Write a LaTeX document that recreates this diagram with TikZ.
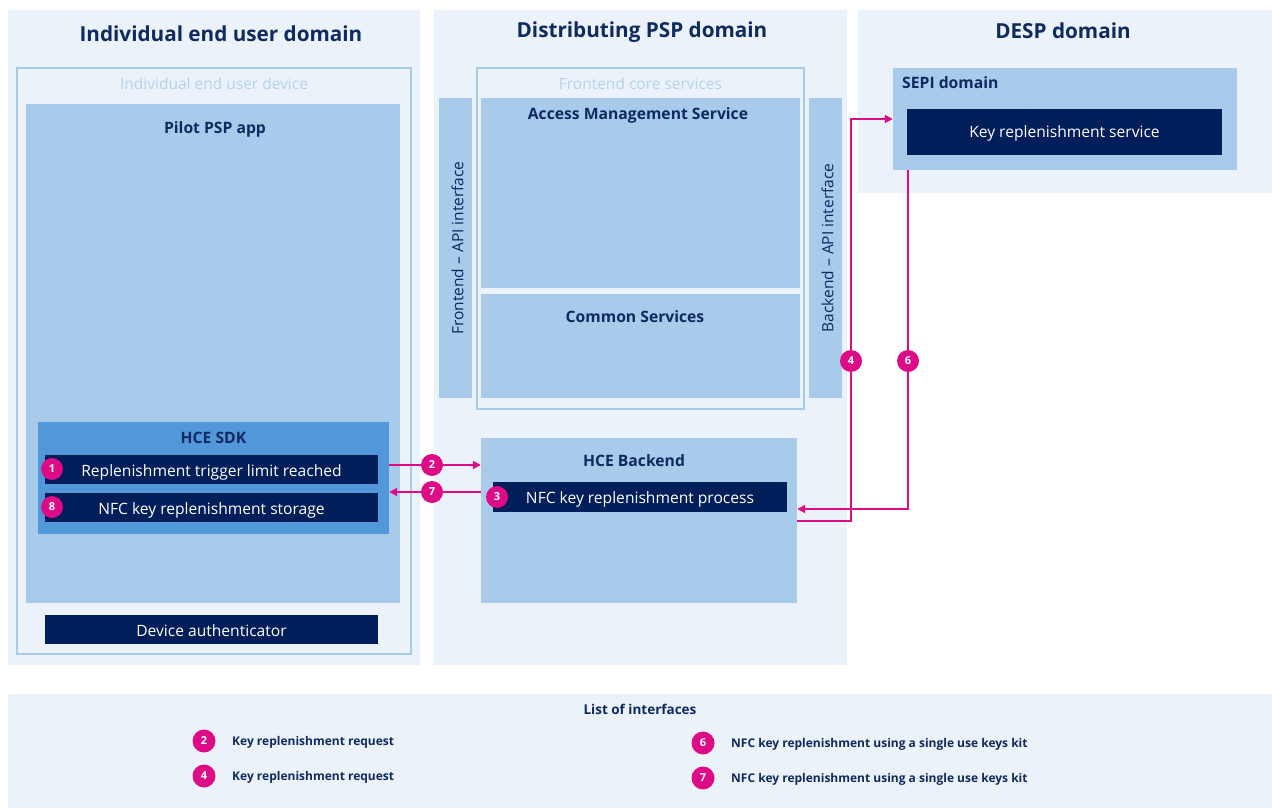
\documentclass[tikz,border=0pt]{standalone}
\usepackage{fontspec}
\setmainfont{Open Sans}
\usetikzlibrary{arrows.meta,calc}
\definecolor{bglight}{HTML}{EBF2FA}
\definecolor{midblue}{HTML}{A8CAEB}
\definecolor{sdkblue}{HTML}{5297DA}
\definecolor{navy}{HTML}{001E5A}
\definecolor{titlecol}{HTML}{0E2A5F}
\definecolor{faint}{HTML}{B5D2EF}
\definecolor{magenta}{HTML}{DD0B86}
\tikzset{
  area/.style={draw=none,fill=bglight,inner sep=0,minimum width=#1},
  outl/.style={draw=midblue,line width=1.6pt,fill=bglight,inner sep=0},
  mid/.style={draw=none,fill=midblue,inner sep=0},
  darkbox/.style={draw=none,fill=navy,inner sep=0,text=white,font=\fontsize{15.6}{18}\selectfont,text height=15pt,text depth=2pt},
  hdr/.style={text=titlecol,font=\fontsize{20.7}{24}\selectfont\bfseries,inner sep=0},
  ttl/.style={text=titlecol,font=\fontsize{15.7}{18}\selectfont\bfseries,inner sep=0},
  flabel/.style={text=faint,font=\fontsize{15.5}{18}\selectfont,inner sep=0},
  vlabel/.style={text=titlecol,font=\fontsize{15.5}{17}\selectfont,inner sep=0,rotate=90},
  badge/.style={circle,fill=magenta,text=white,inner sep=0,minimum size=22pt,font=\fontsize{11}{13}\selectfont\bfseries},
  lbadge/.style={circle,fill=magenta,text=white,inner sep=0,minimum size=23pt,font=\fontsize{11}{13}\selectfont\bfseries},
  ltext/.style={text=titlecol,font=\fontsize{12}{14}\selectfont\bfseries,inner sep=0,anchor=west},
  arr/.style={draw=magenta,line width=1.8pt,-{Triangle[length=8pt,width=8pt]}},
}
\begin{document}
\begin{tikzpicture}[x=1pt,y=-1pt]
\useasboundingbox[fill=white] (0,0) rectangle (1272,810);
% domains
\node[area=412pt,minimum height=655pt] (dom1) at (214,337.5) {};
\node[area=413pt,minimum height=655pt] (dom2) at (640.5,337.5) {};
\node[area=414pt,minimum height=183pt] (dom3) at (1065,101.5) {};
\node[area=1264pt,minimum height=114pt] (leg) at (640,751) {};
\node[hdr] (h1) at (221,34) {Individual end user domain};
\node[hdr] (h2) at (642,32) {Distributing PSP domain};
\node[hdr] (h3) at (1063,31) {DESP domain};
% domain 1
\node[outl,minimum width=394pt,minimum height=586pt] (dev) at (214,361) {};
\node[flabel] (devl) at (214,83.5) {Individual end user device};
\node[mid,minimum width=374pt,minimum height=499pt] (pilot) at (213,353.5) {};
\node[ttl] (pilotl) at (215,129.5) {Pilot PSP app};
\node[fill=sdkblue,inner sep=0,minimum width=351pt,minimum height=112pt] (sdk) at (213.5,478) {};
\node[ttl] (sdkl) at (213.5,437.5) {HCE SDK};
\node[darkbox,minimum width=333pt,minimum height=29pt] (b1) at (211.5,469.5) {Replenishment trigger limit reached};
\node[darkbox,minimum width=333pt,minimum height=29pt] (b8) at (211.5,507.5) {NFC key replenishment storage};
\node[darkbox,minimum width=333pt,minimum height=29pt] (auth) at (211.5,629.5) {Device authenticator};
\node[badge] (n1) at (52,469) {1};
\node[badge] (n8) at (52,507) {8};
% domain 2
\node[outl,minimum width=327pt,minimum height=341pt] (fcs) at (640.5,238.5) {};
\node[flabel] (fcsl) at (640.5,83.5) {Frontend core services};
\node[mid,minimum width=319pt,minimum height=190pt] (ams) at (640.5,193) {};
\node[ttl] (amsl) at (638,115.5) {Access Management Service};
\node[mid,minimum width=319pt,minimum height=104pt] (cs) at (640.5,346) {};
\node[ttl] (csl) at (635,316.5) {Common Services};
\node[mid,minimum width=33pt,minimum height=300pt] (fapi) at (455.5,248) {};
\node[vlabel] (fapil) at (457.5,248) {Frontend – API interface};
\node[mid,minimum width=33pt,minimum height=300pt] (bapi) at (825.5,248) {};
\node[vlabel] (bapil) at (827.5,248) {Backend – API interface};
\node[mid,minimum width=316pt,minimum height=165pt] (hceb) at (639,520.5) {};
\node[ttl] (hcebl) at (634,460.5) {HCE Backend};
\node[darkbox,minimum width=294pt,minimum height=30pt] (b3) at (640,497) {NFC key replenishment process};
\node[badge] (n3) at (497,497) {3};
% domain 3
\node[mid,minimum width=344pt,minimum height=102pt] (sepi) at (1065,119) {};
\node[ttl,anchor=west] (sepil) at (902,82.5) {SEPI domain};
\node[darkbox,minimum width=315pt,minimum height=46pt,text height=12.6pt] (krs) at (1064.5,132) {Key replenishment service};
% connectors
\coordinate (s2) at ([yshift=13pt]sdk.east);
\coordinate (s7) at ([yshift=-14pt]sdk.east);
\draw[arr] (s2) -- (s2 -| hceb.west);
\draw[arr] (s7 -| hceb.west) -- (s7);
\coordinate (c4) at (851,0);
\coordinate (c6) at (908,0);
\draw[arr] ([yshift=-0.5pt]hceb.east) -| (c4 |- sepi.west) -- (sepi.west);
\coordinate (e6) at ([yshift=11.5pt]hceb.east);
\draw[arr] (c6 |- sepi.south) |- (e6);
\node[badge] (n2) at (432,465) {2};
\node[badge] (n7) at (432,492) {7};
\node[badge] (n4) at (851,361) {4};
\node[badge] (n6) at (908,361) {6};
% legend
\node[text=titlecol,font=\fontsize{13.5}{15}\selectfont\bfseries,inner sep=0] (legt) at (640,709) {List of interfaces};
\node[lbadge] (l2) at (204,741) {2};
\node[ltext] (l2t) at (232,742) {Key replenishment request};
\node[lbadge] (l4) at (204,776) {4};
\node[ltext] (l4t) at (232,777) {Key replenishment request};
\node[lbadge] (l6) at (703,743) {6};
\node[ltext] (l6t) at (731,744) {NFC key replenishment using a single use keys kit};
\node[lbadge] (l7) at (703,778) {7};
\node[ltext] (l7t) at (731,779) {NFC key replenishment using a single use keys kit};
\end{tikzpicture}
\end{document}
